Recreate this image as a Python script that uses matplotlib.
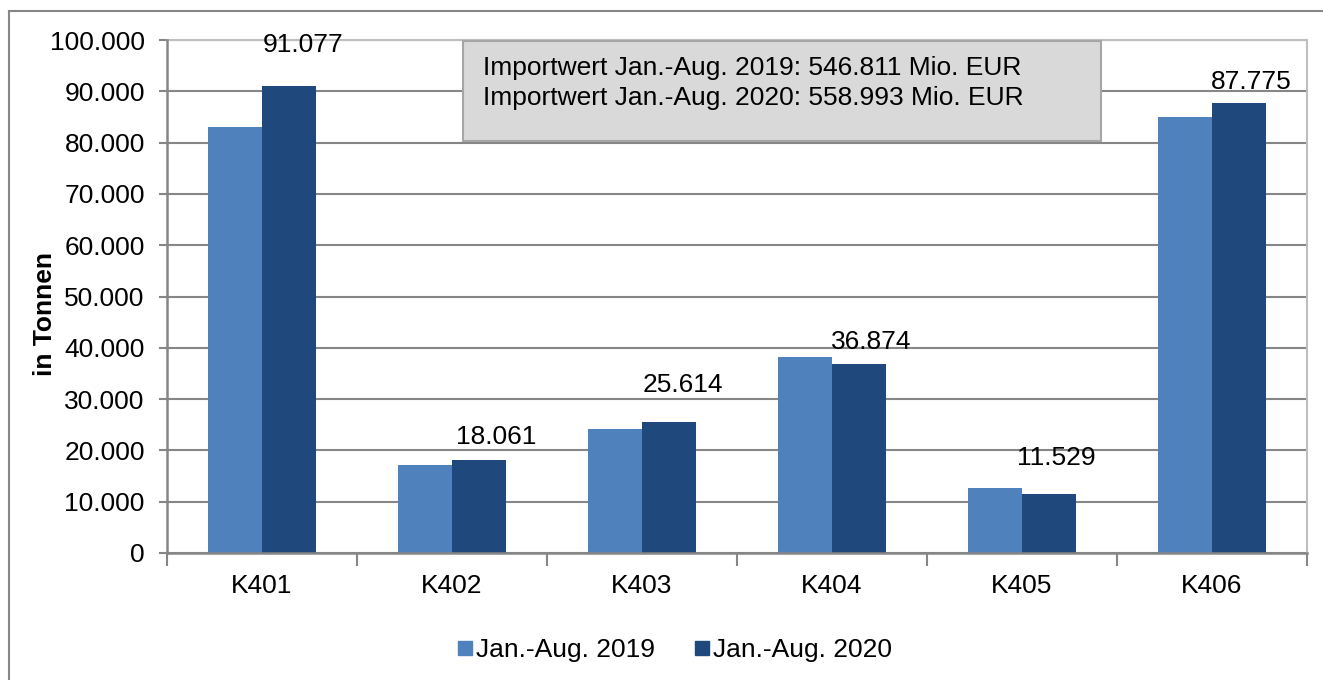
import matplotlib
matplotlib.use("Agg")
import matplotlib.pyplot as plt
from matplotlib.lines import Line2D
from matplotlib.patches import Rectangle

plt.rcParams['font.family'] = ['Liberation Sans', 'DejaVu Sans']

categories = ["K401", "K402", "K403", "K404", "K405", "K406"]
series_names = ["Jan.-Aug. 2019", "Jan.-Aug. 2020"]
values_2019 = [83000, 17100, 24200, 38200, 12700, 85000]
values_2020 = [91077, 18061, 25614, 36874, 11529, 87775]
y_ticks = [0, 10000, 20000, 30000, 40000, 50000, 60000, 70000, 80000, 90000, 100000]
info_lines = ["Importwert Jan.-Aug. 2019: 546.811 Mio. EUR",
              "Importwert Jan.-Aug. 2020: 558.993 Mio. EUR"]
y_label = "in Tonnen"

# label offsets in points (dx, dy of label centre relative to bar top centre)
label_offsets = [(10, 29), (12, 17), (10, 26), (9, 16), (5, 26), (9, 15)]

col_2019 = "#4F81BD"
col_2020 = "#1F497D"
grid_col = "#868686"
fs = 19

def fmt(v):
    return f"{v:,.0f}".replace(",", ".")

fig = plt.figure(figsize=(13.23, 6.80), dpi=100)
ax = fig.add_axes([167/1323, 1 - 553/680, (1307-167)/1323, (553-40)/680])

x = list(range(len(categories)))
w = 0.285
ax.bar([i - w/2 for i in x], values_2019, width=w, color=col_2019, zorder=3, label=series_names[0])
ax.bar([i + w/2 for i in x], values_2020, width=w, color=col_2020, zorder=3, label=series_names[1])

for i, v in enumerate(values_2020):
    dx, dy = label_offsets[i]
    ax.annotate(fmt(v), xy=(i + w/2, v), xytext=(dx, dy), textcoords="offset points",
                ha="center", va="center", fontsize=fs, color="black", zorder=5)

ax.set_xlim(-0.5, len(categories) - 0.5)
ax.set_ylim(0, 100000)
ax.set_yticks(y_ticks)
ax.set_yticklabels([fmt(t) for t in y_ticks], fontsize=fs)
ax.yaxis.grid(True, color=grid_col, linewidth=1.5, zorder=0)
ax.tick_params(axis='y', direction='out', length=6, width=1.5, color=grid_col, pad=10)

ax.set_xticks([i - 0.5 for i in range(len(categories) + 1)])
ax.set_xticklabels([])
ax.set_xticks(x, minor=True)
ax.set_xticklabels(categories, minor=True, fontsize=fs)
ax.tick_params(axis='x', which='major', direction='out', length=9, width=1.5, color=grid_col)
ax.tick_params(axis='x', which='minor', length=0, pad=15)

for s in ['left', 'bottom']:
    ax.spines[s].set_color(grid_col)
    ax.spines[s].set_linewidth(1.8)
    ax.spines[s].set_zorder(4)
for s in ['top', 'right']:
    ax.spines[s].set_color("#BFBFBF")
    ax.spines[s].set_linewidth(1.5)

ax.set_ylabel(y_label, fontsize=fs, fontweight='bold')
ax.yaxis.set_label_coords(-110/1140, (553 - 314) / 513)

# info box
box = Rectangle((463/1323, 1 - 141/680), (1101-463)/1323, 100/680, transform=fig.transFigure,
                facecolor="#D9D9D9", edgecolor="#A6A6A6", linewidth=1.5, zorder=6)
fig.add_artist(box)
fig.text(483/1323, 1 - 68/680, info_lines[0], fontsize=fs, va="center", ha="left", zorder=7)
fig.text(483/1323, 1 - 98/680, info_lines[1], fontsize=fs, va="center", ha="left", zorder=7)

# legend
handles = [Line2D([], [], marker='s', linestyle='none', markersize=10.5, color=col_2019),
           Line2D([], [], marker='s', linestyle='none', markersize=10.5, color=col_2020)]
fig.legend(handles, series_names, loc="center", bbox_to_anchor=(675/1323, 1 - 650/680),
           ncol=2, frameon=False, fontsize=fs, handlelength=0.55, handletextpad=0.15,
           columnspacing=1.5)

# outer border (top and left only visible)
fig.add_artist(Line2D([9/1323, 1], [1 - 11/680, 1 - 11/680], transform=fig.transFigure,
                      color=grid_col, linewidth=1.5))
fig.add_artist(Line2D([9/1323, 9/1323], [0, 1 - 11/680], transform=fig.transFigure,
                      color=grid_col, linewidth=1.5))

fig.savefig("out.png", dpi=100)
